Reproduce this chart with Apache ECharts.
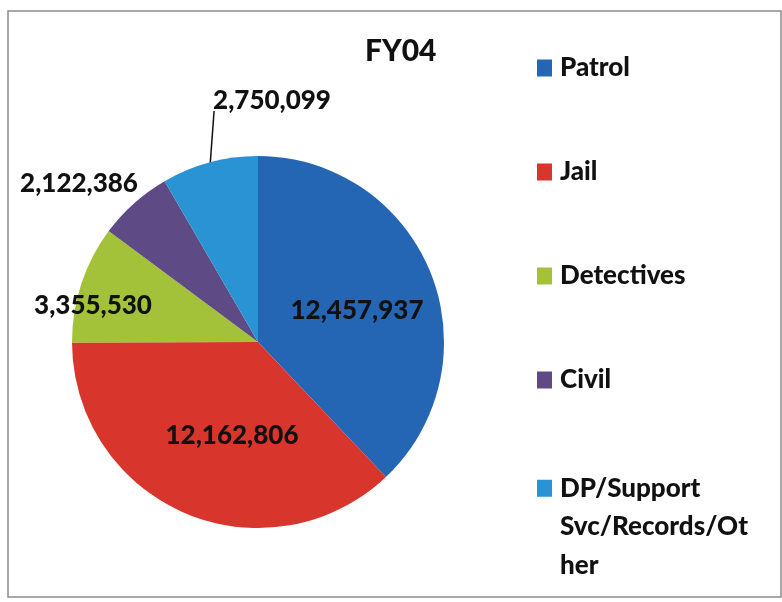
<!DOCTYPE html>
<html>
<head>
<meta charset="utf-8">
<script src="https://cdn.jsdelivr.net/npm/echarts@6/dist/echarts.min.js"></script>
<style>
  html, body { margin: 0; padding: 0; background: #fff; }
  #chart { width: 782px; height: 602px; }
</style>
</head>
<body>
<div id="chart"></div>
<script>
// FY04 budget by division
const chartTitle = 'FY04';
const categories = ['Patrol', 'Jail', 'Detectives', 'Civil', 'DP/Support Svc/Records/Other'];
const values = [12457937, 12162806, 3355530, 2122386, 2750099];
// legend text as wrapped in the legend column
const legendText = ['Patrol', 'Jail', 'Detectives', 'Civil', 'DP/Support\nSvc/Records/Ot\nher'];
const colors = ['#2566b4', '#d8352c', '#a3c23a', '#5e4b86', '#2a93d4'];

// pie geometry (pixels)
const CX = 258, CY = 342, R = 186;
// value label anchors, relative to the pie centre
const labelOffsets = [[99, -31], [-26, 94], [-165, -36], [-179, -158], [14, -241]];

const FONT = 'Lato, "Open Sans", sans-serif';
const textBase = { fontFamily: FONT, fontWeight: 900, color: '#111' };

const total = values.reduce((a, b) => a + b, 0);
function midAngle(i) {
  // clockwise degrees from 12 o'clock
  let before = 0;
  for (let k = 0; k < i; k++) before += values[k];
  return (before + values[i] / 2) / total * 360;
}

const fmt = v => v.toLocaleString('en-US');

const chart = echarts.init(document.getElementById('chart'), null, { renderer: 'canvas' });

const option = {
  animation: false,
  backgroundColor: '#fff',
  color: colors,
  title: {
    text: chartTitle,
    left: 365,
    top: 36,
    padding: 0,
    textStyle: Object.assign({}, textBase, { fontSize: 30, lineHeight: 30 })
  },
  legend: [
    {
      orient: 'vertical',
      left: 537,
      top: 49,
      padding: 0,
      itemGap: 66,
      itemWidth: 15,
      itemHeight: 17,
      icon: 'rect',
      selectedMode: false,
      itemStyle: { borderWidth: 0 },
      data: categories.slice(0, 4),
      formatter: name => legendText[categories.indexOf(name)],
      textStyle: Object.assign({}, textBase, { fontSize: 26, lineHeight: 38, padding: [0, 0, 0, 3] })
    },
    {
      orient: 'vertical',
      left: 537,
      top: 469,
      padding: 0,
      itemWidth: 15,
      itemHeight: 115.5,
      // square sits beside the first line of the wrapped name
      icon: 'path://M0,0L0,0M0,10.75H15V27.75H0ZM0,115.5L0,115.5',
      selectedMode: false,
      itemStyle: { borderWidth: 0 },
      data: categories.slice(4),
      formatter: name => legendText[categories.indexOf(name)],
      textStyle: Object.assign({}, textBase, { fontSize: 26, lineHeight: 38.5, padding: [0, 0, 0, 3] })
    }
  ],
  graphic: [
    {
      type: 'rect',
      shape: { x: 8, y: 11, width: 773, height: 586 },
      style: { fill: 'none', stroke: '#8c8c8c', lineWidth: 1.5 },
      silent: true
    }
  ],
  series: [
    {
      type: 'pie',
      center: [CX, CY],
      radius: R,
      startAngle: 90,
      clockwise: true,
      avoidLabelOverlap: false,
      emphasis: { disabled: true },
      itemStyle: { borderWidth: 0 },
      label: Object.assign({}, textBase, {
        fontSize: 26,
        formatter: p => fmt(p.value)
      }),
      labelLine: { show: false, lineStyle: { color: '#111', width: 1.5 } },
      labelLayout: function (params) {
        const i = params.dataIndex;
        const off = labelOffsets[i];
        const res = {
          x: CX + off[0],
          y: CY + off[1],
          align: 'center',
          verticalAlign: 'middle'
        };
        if (i === 4) {
          const a = midAngle(i) * Math.PI / 180;
          const sx = CX + Math.sin(a) * (R - 2);
          const sy = CY - Math.cos(a) * (R - 2);
          const lr = params.labelRect;
          const ex = CX + off[0] - lr.width / 2 + 1;
          const ey = CY + off[1] + 10;
          res.labelLinePoints = [[sx, sy], [(sx + ex) / 2, (sy + ey) / 2], [ex, ey]];
        }
        return res;
      },
      data: categories.map((name, i) => ({
        name: name,
        value: values[i],
        label: { position: i < 3 ? 'inside' : 'outside' },
        labelLine: { show: i === 4 }
      }))
    }
  ]
};

chart.setOption(option);
</script>
</body>
</html>
